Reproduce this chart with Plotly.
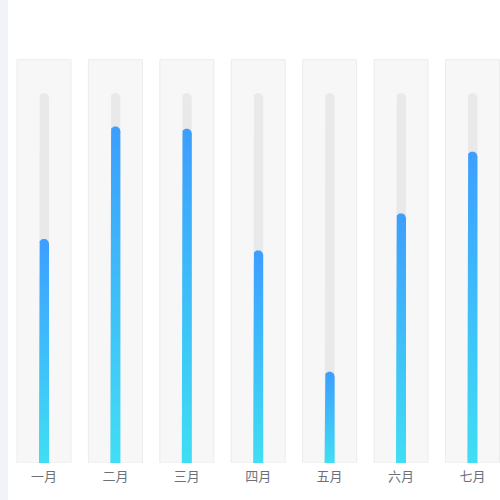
import numpy as np
import plotly.graph_objects as go

# data
months = ['一月', '二月', '三月', '四月', '五月', '六月', '七月']
values = [60.6, 91.0, 90.4, 57.5, 24.7, 67.5, 84.2]
track_max = [100] * 7
panel_max = [109] * 7

# layout numbers (pixels)
W, H = 500, 500
m_l, m_r, m_t, m_b = 8, 0, 40, 37
x_range = [-0.504, 6.386]
px_x = (W - m_l - m_r) / (x_range[1] - x_range[0])
px_y = 3.7
y_range = [0, (H - m_t - m_b) / px_y]

bar_w = 10 / px_x
panel_w = 54 / px_x
hw = bar_w / 2
ry = 5 / px_y
t = np.linspace(np.pi, 0, 30)


def round_bar(i, v):
    # outline of a bar with a half-round top, in axis units
    xs = [i - hw, i - hw] + list(i + hw * np.cos(t)) + [i + hw, i - hw]
    ys = [0, v - ry] + list(v - ry + ry * np.sin(t)) + [0, 0]
    return xs, ys


fig = go.Figure()

# light panels behind each month
fig.add_trace(go.Bar(x=list(range(len(months))), y=panel_max, width=panel_w,
                     marker=dict(color='#f7f7f7',
                                 line=dict(color='#ececec', width=1)),
                     hoverinfo='skip'))

# grey track
for i, v in enumerate(track_max):
    xs, ys = round_bar(i, v)
    fig.add_trace(go.Scatter(x=xs, y=ys, mode='lines', fill='toself',
                             fillcolor='#e9e9e9', line=dict(width=0),
                             hoverinfo='skip'))

# value bars with gradient
for i, v in enumerate(values):
    xs, ys = round_bar(i, v)
    fig.add_trace(go.Scatter(x=xs, y=ys, mode='lines', fill='toself',
                             line=dict(width=0),
                             fillgradient=dict(type='vertical',
                                               colorscale=[[0, 'rgb(64,222,243)'],
                                                           [1, 'rgb(60,158,255)']]),
                             hoverinfo='skip'))

fig.update_layout(width=W, height=H,
                  margin=dict(l=m_l, r=m_r, t=m_t, b=m_b),
                  barmode='overlay',
                  showlegend=False,
                  paper_bgcolor='white',
                  plot_bgcolor='white',
                  font=dict(family='Noto Sans CJK SC', size=13, color='#6e7079'),
                  xaxis=dict(range=x_range, tickvals=list(range(len(months))),
                             ticktext=months, showgrid=False, zeroline=False,
                             showline=False, ticks='', ticklabelstandoff=4,
                             fixedrange=True),
                  yaxis=dict(range=y_range, visible=False, fixedrange=True),
                  shapes=[dict(type='rect', xref='paper', yref='paper',
                               x0=-m_l / (W - m_l - m_r), x1=0, y0=-0.2, y1=1.2,
                               fillcolor='#f2f3f8', line=dict(width=0),
                               layer='below')])

fig.write_html("out.html", config={'displayModeBar': False},
               post_script="document.body.style.margin='0';")
